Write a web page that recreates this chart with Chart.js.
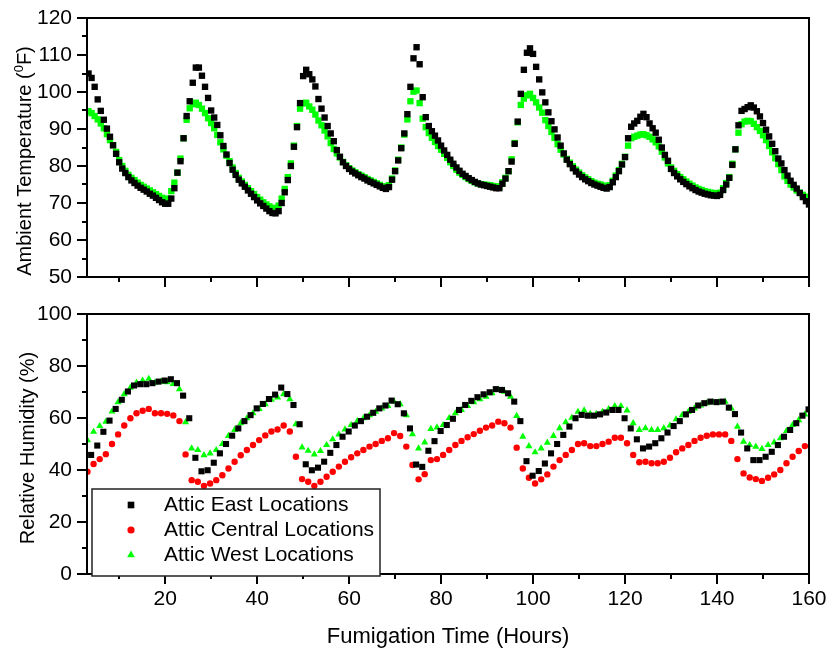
<!DOCTYPE html>
<html>
<head>
<meta charset="utf-8">
<script src="https://cdn.jsdelivr.net/npm/chart.js@4"></script>
<style>
  html, body { margin: 0; padding: 0; background: #fff; }
  #wrap { position: relative; width: 830px; height: 654px; }
  #wrap canvas { position: absolute; left: 0; }
</style>
</head>
<body>
<div id="wrap">
  <canvas id="tempChart" width="830" height="300" style="top:0"></canvas>
  <canvas id="rhChart" width="830" height="354" style="top:300px"></canvas>
</div>
<script>
/* ============================================================
   Attic fumigation — temperature / RH vs time (two panels)
   ============================================================ */

// ── axis ticks ──
const xTicks = [20, 40, 60, 80, 100, 120, 140, 160];
const xMinor = [10, 30, 50, 70, 90, 110, 130, 150];
const tempTicks = [50, 60, 70, 80, 90, 100, 110, 120];
const tempMinor = [55, 65, 75, 85, 95, 105, 115];
const rhTicks = [0, 20, 40, 60, 80, 100];
const rhMinor = [10, 30, 50, 70, 90];

// ── logging times (hours) ──
const TEMP_START = 3.33, TEMP_STEP = 2 / 3;      // temperature logged every 40 min
const RH_START = 3.1, RH_START_EAST = 3.9, RH_STEP = 4 / 3;  // RH every 80 min

// ── Ambient temperature (°F) ──
const tempEast = [
  105.0,103.8,101.4,98.0,94.9,92.5,90.1,87.9,85.6,83.3,81.0,79.3,
  78.1,77.0,76.1,75.4,74.7,74.1,73.6,73.1,72.5,72.0,71.4,70.8,
  70.2,69.8,69.8,71.2,74.0,78.2,81.3,87.5,93.5,97.5,102.5,106.6,
  106.6,104.4,101.4,98.4,95.0,93.1,91.1,88.3,85.4,83.1,80.8,79.0,
  77.6,76.3,75.3,74.4,73.4,72.5,71.6,70.7,69.9,69.2,68.5,67.8,
  67.3,67.2,67.8,70.0,72.9,76.2,80.0,85.2,90.5,97.0,104.3,106.0,
  104.8,103.4,101.5,98.1,95.5,93.1,90.8,88.8,86.7,84.3,82.5,81.0,
  80.0,79.2,78.5,78.0,77.5,77.0,76.6,76.1,75.7,75.3,74.9,74.5,
  74.1,73.8,74.3,76.3,78.6,81.5,84.8,88.8,94.0,101.4,109.1,112.1,
  107.5,98.6,93.2,90.8,89.4,88.2,86.9,85.5,84.2,83.0,81.7,80.6,
  79.6,78.7,77.9,77.3,76.7,76.2,75.7,75.3,75.0,74.8,74.6,74.4,
  74.2,74.0,74.0,75.2,76.6,78.6,81.2,86.0,92.0,99.5,106.0,110.6,
  111.8,110.3,106.8,103.4,99.9,97.2,94.5,92.1,89.9,87.7,85.5,83.4,
  81.7,80.5,79.4,78.5,77.7,77.0,76.4,75.9,75.4,75.0,74.7,74.4,
  74.1,73.9,74.3,75.6,77.0,78.6,80.4,82.4,87.5,90.6,91.5,92.2,
  93.3,94.1,93.2,91.5,90.2,89.0,87.1,85.0,83.0,81.4,79.2,78.1,
  77.2,76.4,75.7,75.1,74.5,74.0,73.5,73.1,72.8,72.5,72.3,72.1,
  72.0,71.9,72.2,73.5,75.0,76.8,80.3,84.5,91.0,94.9,95.4,95.9,
  96.4,95.8,94.8,93.4,91.6,89.8,88.0,86.0,84.0,82.0,80.7,78.9,
  77.4,76.0,74.9,73.9,72.7,71.6,70.5,69.6
];
const tempWest = [
  94.8,94.3,93.5,92.6,91.5,90.2,88.6,87.0,85.6,83.8,81.6,80.0,
  78.7,77.6,76.8,76.2,75.5,74.9,74.4,73.9,73.4,72.9,72.4,71.9,
  71.4,71.0,71.2,73.2,75.5,78.2,82.0,87.5,92.5,95.6,96.7,97.1,
  96.5,95.5,94.3,92.9,91.6,90.2,88.4,86.4,84.5,82.8,81.3,79.6,
  78.1,76.8,75.8,74.9,74.0,73.2,72.4,71.6,70.9,70.2,69.6,69.1,
  68.7,68.6,69.3,71.2,73.8,77.0,80.7,85.5,90.8,95.5,96.9,97.1,
  96.1,95.2,93.9,92.3,91.0,89.6,88.0,86.2,84.6,83.4,82.3,81.1,
  80.2,79.4,78.8,78.3,77.8,77.4,77.0,76.5,76.1,75.7,75.3,74.9,
  74.5,74.1,74.8,76.6,78.8,81.7,85.0,88.5,92.6,97.5,100.1,100.4,
  97.0,92.8,90.5,88.9,87.6,86.5,85.4,84.4,83.3,82.2,81.0,80.0,
  79.0,78.2,77.6,77.0,76.5,76.0,75.6,75.3,75.1,75.0,74.9,74.8,
  74.6,74.5,74.4,75.6,76.8,78.6,81.8,86.2,91.8,96.5,98.2,99.1,
  99.5,98.4,97.2,95.8,94.4,92.4,90.8,89.2,87.6,85.9,84.4,83.1,
  81.9,80.9,79.9,79.0,78.2,77.5,76.9,76.4,75.9,75.5,75.2,75.0,
  74.7,74.4,74.8,76.0,77.4,78.9,80.6,82.5,85.5,87.5,87.9,88.2,
  88.5,88.6,88.3,87.9,87.2,86.4,85.3,83.9,82.3,80.7,79.6,78.7,
  77.8,77.0,76.4,75.8,75.2,74.7,74.2,73.8,73.5,73.2,73.0,72.8,
  72.7,72.6,72.8,74.0,75.4,77.0,80.6,84.5,89.0,91.3,92.0,92.2,
  92.1,91.4,90.5,89.5,88.3,87.0,85.4,83.7,82.1,80.5,78.9,77.2,
  76.0,75.0,74.2,73.4,72.8,72.2,71.7,71.3
];

// ── Relative humidity (%) ──
const rhEast = [
  45.8,49.4,54.7,59.0,63.5,67.0,70.2,72.5,73.0,73.0,73.4,74.0,
  74.4,74.9,73.4,68.6,59.9,44.7,39.5,39.9,42.8,46.4,50.0,53.2,
  56.0,58.8,61.1,63.7,65.4,67.3,69.0,71.7,69.2,65.0,57.6,42.2,
  39.9,40.9,43.2,46.6,49.6,52.8,54.8,57.1,58.8,60.5,62.0,63.7,
  64.8,66.7,65.3,61.8,56.0,42.1,41.2,47.4,51.1,55.0,57.3,59.7,
  63.1,65.0,66.6,68.0,69.1,69.9,71.1,70.8,69.5,66.3,58.8,43.4,
  37.8,39.6,42.5,46.4,50.0,53.5,56.7,59.9,61.2,60.9,60.9,61.4,
  62.1,63.1,63.1,59.9,56.0,51.8,48.3,49.0,50.3,52.2,54.4,56.9,
  58.8,61.4,63.1,64.8,65.7,66.3,66.1,66.3,64.0,61.5,54.4,48.3,
  43.8,43.8,45.1,47.0,49.6,52.8,55.4,58.0,60.9,63.3
];
const rhCentral = [
  39.3,42.3,44.2,46.1,50.0,53.7,57.1,59.9,61.8,62.8,63.5,61.8,
  61.8,61.6,61.0,58.8,46.0,36.1,35.5,33.9,34.8,36.1,38.0,40.6,
  43.2,45.7,47.7,49.6,51.5,53.3,54.8,55.6,57.1,54.8,45.1,36.5,
  35.5,33.9,35.5,37.4,39.3,41.3,43.2,44.9,46.4,47.7,49.0,50.0,
  51.2,52.2,54.2,53.1,49.0,41.9,36.4,38.4,43.8,44.2,45.8,47.7,
  49.6,51.2,52.6,53.8,55.1,56.3,57.1,58.6,58.0,56.3,48.6,40.6,
  37.0,34.8,36.4,38.3,41.3,43.8,45.8,47.7,50.0,50.3,49.2,49.2,
  50.0,50.9,52.4,52.4,50.3,45.8,43.0,43.2,42.6,42.6,43.2,44.7,
  46.8,48.3,49.6,51.2,52.4,53.2,53.7,53.7,53.7,51.2,44.2,38.7,
  37.1,36.5,35.8,37.0,38.3,40.0,42.6,45.1,47.3,49.2
];
const rhWest = [
  51.5,54.7,56.9,58.6,62.5,66.1,69.2,71.7,73.6,74.4,75.1,73.6,
  74.0,73.8,73.1,71.1,58.4,48.3,47.7,45.7,46.4,47.7,50.0,53.1,
  55.4,58.0,59.9,61.8,63.5,65.3,67.0,67.9,69.2,67.2,57.6,48.7,
  47.4,46.0,47.3,49.6,51.8,53.7,55.6,57.3,58.8,59.9,61.1,62.4,
  63.7,64.6,66.3,65.3,61.1,53.8,48.3,50.6,55.8,56.4,57.3,60.0,
  61.8,63.1,64.6,66.1,67.2,68.2,69.5,70.8,70.1,68.2,60.8,52.8,
  49.2,46.8,48.3,50.5,53.1,56.1,58.4,60.1,62.4,62.9,61.6,61.6,
  62.4,63.4,64.6,64.6,62.9,58.0,55.4,56.1,55.4,55.4,56.1,57.1,
  59.5,61.1,62.4,63.7,64.8,65.7,66.1,66.1,66.3,63.7,56.7,50.9,
  49.6,49.0,48.1,49.6,50.6,52.2,55.0,57.3,59.2,61.4
];

const seriesLabels = ['Attic East Locations', 'Attic Central Locations', 'Attic West Locations'];

const FONT = "'Liberation Sans', Arial, sans-serif";
const BLACK = '#000000', RED = '#ff0000', GREEN = '#00ff00';

const toXY = (vals, start, step) => vals.map((v, i) => ({ x: start + i * step, y: v }));

function ds(label, data, color, style, radius) {
  return {
    label, data,
    pointStyle: style,
    pointRadius: radius,
    pointBackgroundColor: color,
    pointBorderWidth: 0,
    backgroundColor: color,
    showLine: false
  };
}

/* ── scales ── */
function xScale(withLabels) {
  return {
    type: 'linear', min: 3, max: 160,
    grid: { display: false, drawTicks: false },
    border: { display: false },
    afterBuildTicks: s => { s.ticks = xTicks.map(v => ({ value: v })); },
    afterFit: s => {
      s.height = withLabels ? 80 : 23;
      s.paddingLeft = 0; s.paddingRight = 0;   // keep the plot box fixed
    },
    ticks: {
      display: withLabels, padding: 13, maxRotation: 0, autoSkip: false,
      color: '#000', font: { family: FONT, size: 21 }
    },
    title: {
      display: withLabels, text: 'Fumigation Time (Hours)', color: '#000',
      font: { family: FONT, size: 22 }, padding: { top: 0, bottom: 4 }
    }
  };
}

function yScale(min, max, majors) {
  return {
    type: 'linear', min, max,
    grid: { display: false, drawTicks: false },
    border: { display: false },
    afterBuildTicks: s => { s.ticks = majors.map(v => ({ value: v })); },
    afterFit: s => { s.width = 87; s.paddingTop = 0; s.paddingBottom = 0; },
    ticks: { padding: 15, color: '#000', font: { family: FONT, size: 21 } }
  };
}

/* ── frame, tick marks, vertical title, inset legend ── */
function drawMarker(ctx, style, r, x, y, color) {
  ctx.fillStyle = color;
  ctx.beginPath();
  if (style === 'rect') {
    const h = r * Math.SQRT1_2;
    ctx.rect(x - h, y - h, 2 * h, 2 * h);
  } else if (style === 'triangle') {
    for (let k = 0; k < 3; k++) {
      const a = k * 2 * Math.PI / 3;
      ctx[k ? 'lineTo' : 'moveTo'](x + Math.sin(a) * r, y - Math.cos(a) * r);
    }
    ctx.closePath();
  } else {
    ctx.arc(x, y, r, 0, Math.PI * 2);
  }
  ctx.fill();
}

const panelDecor = {
  id: 'panelDecor',
  afterDraw(chart, args, opts) {
    const { ctx, chartArea: a, scales } = chart;
    ctx.save();
    ctx.strokeStyle = '#000';
    ctx.lineWidth = 2;
    ctx.strokeRect(a.left, a.top, a.right - a.left, a.bottom - a.top);

    ctx.beginPath();
    const xt = (vals, len) => vals.forEach(v => {
      const px = Math.round(scales.x.getPixelForValue(v));
      ctx.moveTo(px, a.bottom); ctx.lineTo(px, a.bottom + len);
    });
    const yt = (vals, len) => vals.forEach(v => {
      const py = Math.round(scales.y.getPixelForValue(v));
      ctx.moveTo(a.left, py); ctx.lineTo(a.left - len, py);
    });
    xt(xTicks, 10); xt(xMinor, 5);
    yt(opts.yMajor, 10); yt(opts.yMinor, 5);
    ctx.stroke();

    // vertical axis title (with optional superscript part)
    ctx.fillStyle = '#000';
    ctx.textBaseline = 'alphabetic';
    ctx.translate(opts.titleX, opts.titleY);
    ctx.rotate(-Math.PI / 2);
    let total = 0;
    opts.title.forEach(p => {
      ctx.font = (p.sup ? 13 : 20) + 'px ' + FONT;
      p.w = ctx.measureText(p.text).width; total += p.w;
    });
    let x = -total / 2;
    opts.title.forEach(p => {
      ctx.font = (p.sup ? 13 : 20) + 'px ' + FONT;
      ctx.fillText(p.text, x, p.sup ? -8 : 0);
      x += p.w;
    });
    ctx.restore();

    if (opts.legend) {
      const L = opts.legend;
      ctx.save();
      ctx.fillStyle = '#fff';
      ctx.fillRect(L.x, L.y, L.w, L.h);
      ctx.strokeStyle = '#222';
      ctx.lineWidth = 1.5;
      ctx.strokeRect(L.x, L.y, L.w, L.h);
      ctx.font = '21px ' + FONT;
      ctx.textBaseline = 'middle';
      chart.data.datasets.forEach((d, i) => {
        const cy = L.y + 16 + i * 25;
        drawMarker(ctx, d.pointStyle, d.pointRadius + 0.4, L.x + 39, cy, d.pointBackgroundColor);
        ctx.fillStyle = '#000';
        ctx.fillText(d.label, L.x + 72, cy);
      });
      ctx.restore();
    }
  }
};

const baseOptions = (padTop) => ({
  responsive: false,
  animation: false,
  events: [],
  layout: { padding: { top: padTop, right: 21, left: 0, bottom: 0 } }
});

/* ── Top: ambient temperature ── */
new Chart(document.getElementById('tempChart'), {
  type: 'scatter',
  data: {
    datasets: [
      ds(seriesLabels[0], toXY(tempEast, TEMP_START, TEMP_STEP), BLACK, 'rect', 4.5),
      ds(seriesLabels[2], toXY(tempWest, TEMP_START, TEMP_STEP), GREEN, 'rect', 4.5)
    ]
  },
  options: {
    ...baseOptions(18),
    scales: { x: xScale(false), y: yScale(50, 120, tempTicks) },
    plugins: {
      legend: { display: false }, tooltip: { enabled: false },
      panelDecor: {
        yMajor: tempTicks, yMinor: tempMinor, titleX: 31, titleY: 161,
        title: [{ text: 'Ambient Temperature (' }, { text: '0', sup: true }, { text: 'F)' }]
      }
    }
  },
  plugins: [panelDecor]
});

/* ── Bottom: relative humidity ── */
new Chart(document.getElementById('rhChart'), {
  type: 'scatter',
  data: {
    datasets: [
      ds(seriesLabels[0], toXY(rhEast, RH_START_EAST, RH_STEP), BLACK, 'rect', 4.3),
      ds(seriesLabels[1], toXY(rhCentral, RH_START, RH_STEP), RED, 'circle', 3.2),
      ds(seriesLabels[2], toXY(rhWest, RH_START, RH_STEP), GREEN, 'triangle', 4.1)
    ]
  },
  options: {
    ...baseOptions(14),
    scales: { x: xScale(true), y: yScale(0, 100, rhTicks) },
    plugins: {
      legend: { display: false }, tooltip: { enabled: false },
      panelDecor: {
        yMajor: rhTicks, yMinor: rhMinor, titleX: 34, titleY: 148,
        title: [{ text: 'Relative Humidity (%)' }],
        legend: { x: 92, y: 189, w: 288, h: 87 }
      }
    }
  },
  plugins: [panelDecor]
});
</script>
</body>
</html>
